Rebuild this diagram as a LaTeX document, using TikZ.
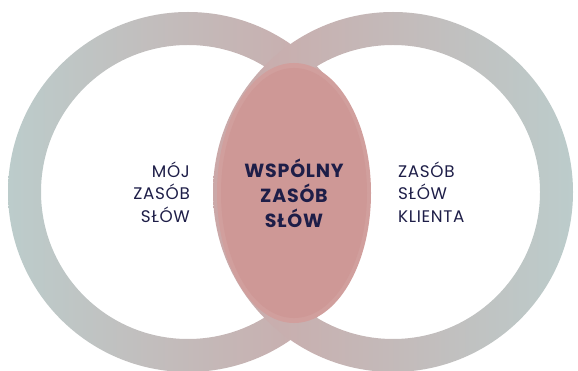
\documentclass[tikz,border=0pt]{standalone}
\usepackage{fontspec}
\setmainfont{Poppins}[LetterSpace=4]
\definecolor{ringteal}{HTML}{BCCCCB}
\definecolor{ringpink}{HTML}{CBA8A8}
\definecolor{lensedge}{HTML}{D19F9D}
\definecolor{lensfill}{HTML}{CE9896}
\definecolor{navy}{HTML}{1E1E48}
\tikzset{
  lbl/.style={text=navy, inner sep=0pt, font=\fontsize{16.8}{22.5}\selectfont},
  blbl/.style={text=navy, inner sep=0pt, align=center, font=\fontsize{19}{25}\selectfont\bfseries},
}
\begin{document}
\begin{tikzpicture}[x=1pt,y=-1pt]
\useasboundingbox (0,0) rectangle (578,371);
\coordinate (c1) at (188,192);
\coordinate (c2) at (393,192);
% left ring
\shade[left color=ringteal, right color=ringpink, even odd rule]
  (c1) circle[radius=180] (c1) circle[radius=147];
% right ring
\shade[left color=ringpink, right color=ringteal, even odd rule]
  (c2) circle[radius=180] (c2) circle[radius=147];
% lens
\fill[lensedge] (294,193) ellipse[x radius=77, y radius=130];
\fill[lensfill] (294,193) ellipse[x radius=73, y radius=125];
% texts
\node[lbl, align=right, anchor=east] (mine) at (190,192) {MÓJ\\ZASÓB\\SŁÓW};
\node[blbl] (common) at (294,193) {WSPÓLNY\\ZASÓB\\SŁÓW};
\node[lbl, align=left, anchor=west] (client) at (398,192) {ZASÓB\\SŁÓW\\KLIENTA};
\end{tikzpicture}
\end{document}
